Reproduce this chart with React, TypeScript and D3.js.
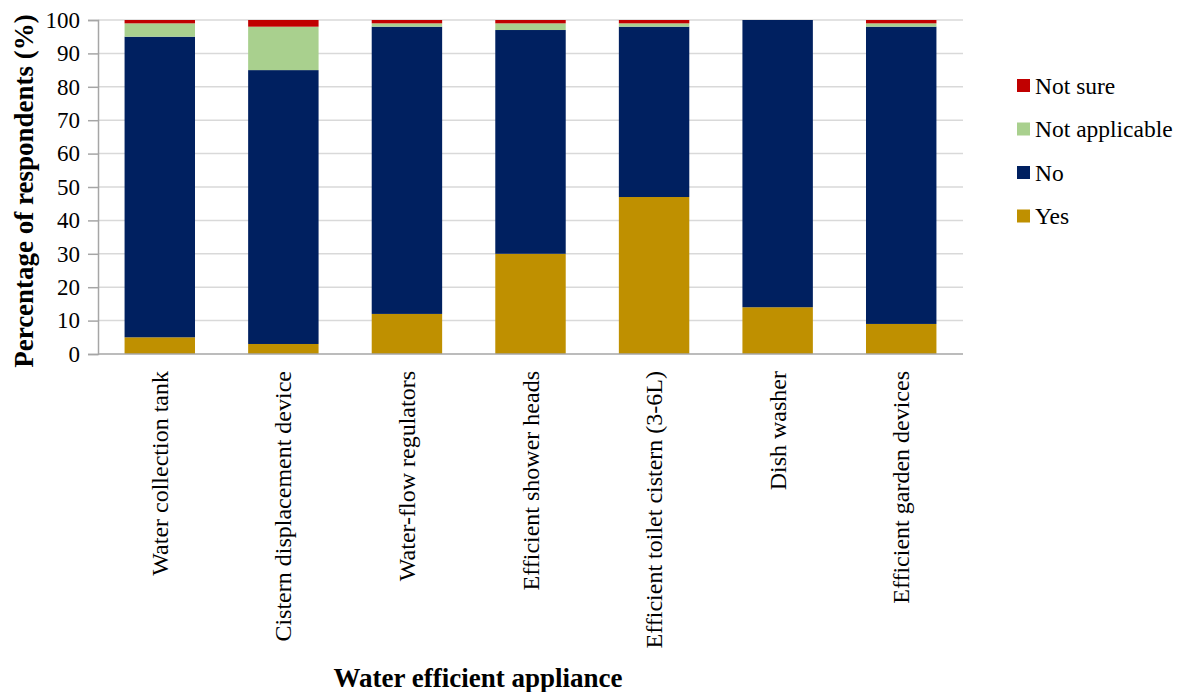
import React, { useEffect, useRef } from "react";
import * as d3 from "d3";

const categories = [
  "Water collection tank",
  "Cistern displacement device",
  "Water-flow regulators",
  "Efficient shower heads",
  "Efficient toilet cistern (3-6L)",
  "Dish washer",
  "Efficient garden devices",
];

const yes = [5, 3, 12, 30, 47, 14, 9];
const no = [90, 82, 86, 67, 51, 86, 89];
const notApplicable = [4, 13, 1, 2, 1, 0, 1];
const notSure = [1, 2, 1, 1, 1, 0, 1];

const seriesNames = ["Yes", "No", "Not applicable", "Not sure"];
const seriesColors = ["#BF9000", "#002060", "#A9D08E", "#C00000"];
const yTicks = [0, 10, 20, 30, 40, 50, 60, 70, 80, 90, 100];

const App = () => {
  const svgRef = useRef<SVGSVGElement>(null);

  useEffect(() => {
    const w = 1191;
    const h = 692;
    const left = 98;
    const right = 963;
    const top = 20;
    const bottom = 354;
    const font = "Liberation Serif";

    const svg = d3.select(svgRef.current).attr("width", w).attr("height", h);
    svg.selectAll("*").remove();

    const rows = categories.map((c, i) => ({
      cat: c,
      Yes: yes[i],
      No: no[i],
      "Not applicable": notApplicable[i],
      "Not sure": notSure[i],
    }));

    const x = d3.scaleBand().domain(categories).range([left, right]).paddingInner(0.43).paddingOuter(0.215);
    const y = d3.scaleLinear().domain([0, 100]).range([bottom, top]);

    // gridlines
    svg
      .append("g")
      .selectAll("line")
      .data(yTicks.filter((t) => t > 0))
      .join("line")
      .attr("x1", left)
      .attr("x2", right)
      .attr("y1", (d) => y(d))
      .attr("y2", (d) => y(d))
      .attr("stroke", "#D9D9D9")
      .attr("stroke-width", 1.5);

    const stack = d3.stack<any>().keys(seriesNames)(rows);

    svg
      .append("g")
      .selectAll("g")
      .data(stack)
      .join("g")
      .attr("fill", (_, i) => seriesColors[i])
      .selectAll("rect")
      .data((d) => d)
      .join("rect")
      .attr("x", (d: any) => x(d.data.cat)!)
      .attr("width", x.bandwidth())
      .attr("y", (d) => y(d[1]))
      .attr("height", (d) => y(d[0]) - y(d[1]));

    // y axis
    const yAxis = d3.axisLeft(y).tickValues(yTicks).tickSize(10).tickPadding(8);
    const yg = svg.append("g").attr("transform", `translate(${left},0)`).call(yAxis);
    yg.select(".domain").attr("stroke", "#A6A6A6").attr("stroke-width", 1.5);
    yg.selectAll(".tick line").attr("stroke", "#A6A6A6").attr("stroke-width", 1.5);
    yg.selectAll(".tick text")
      .attr("font-family", font)
      .attr("font-size", 23)
      .attr("fill", "#000");

    // x axis line
    svg
      .append("line")
      .attr("x1", left)
      .attr("x2", right)
      .attr("y1", bottom)
      .attr("y2", bottom)
      .attr("stroke", "#A6A6A6")
      .attr("stroke-width", 1.5);

    // category labels
    svg
      .append("g")
      .selectAll("text")
      .data(categories)
      .join("text")
      .attr("transform", (d) => `translate(${x(d)! + x.bandwidth() / 2 + 8},371) rotate(-90)`)
      .attr("text-anchor", "end")
      .attr("font-family", font)
      .attr("font-size", 24)
      .text((d) => d);

    // axis titles
    svg
      .append("text")
      .attr("transform", `translate(33,${(top + bottom) / 2 + 4}) rotate(-90)`)
      .attr("text-anchor", "middle")
      .attr("font-family", font)
      .attr("font-weight", "bold")
      .attr("font-size", 27)
      .text("Percentage of respondents (%)");

    svg
      .append("text")
      .attr("x", 478)
      .attr("y", 687)
      .attr("text-anchor", "middle")
      .attr("font-family", font)
      .attr("font-weight", "bold")
      .attr("font-size", 27)
      .text("Water efficient appliance");

    // legend
    const legendOrder = [3, 2, 1, 0];
    const lg = svg
      .append("g")
      .selectAll("g")
      .data(legendOrder)
      .join("g")
      .attr("transform", (_, i) => `translate(1017,${85.5 + i * 43.5})`);
    lg.append("rect")
      .attr("x", 0)
      .attr("y", -6.5)
      .attr("width", 13)
      .attr("height", 13)
      .attr("fill", (d) => seriesColors[d]);
    lg.append("text")
      .attr("x", 18)
      .attr("y", 8)
      .attr("font-family", font)
      .attr("font-size", 23.5)
      .text((d) => seriesNames[d]);
  }, []);

  return (
    <div>
      <svg ref={svgRef} style={{ position: "absolute", left: 0, top: 0 }}></svg>
    </div>
  );
};

export default App;
